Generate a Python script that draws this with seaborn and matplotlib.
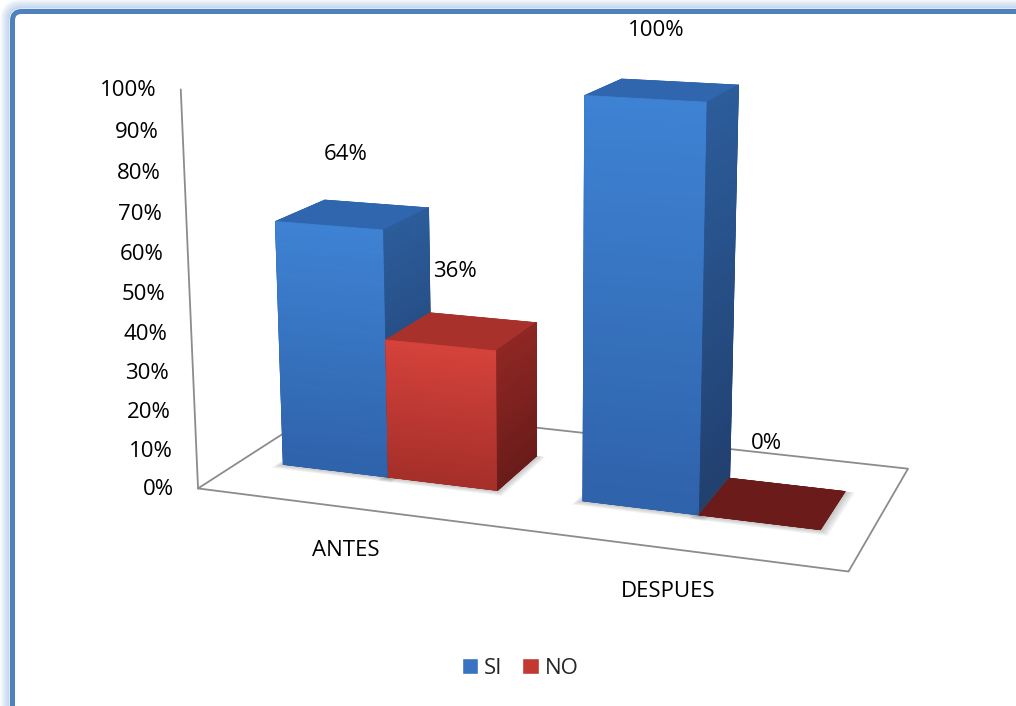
import numpy as np
import pandas as pd
import matplotlib
matplotlib.use("Agg")
import matplotlib.pyplot as plt
import seaborn as sns
from matplotlib.patches import Patch, FancyBboxPatch
from mpl_toolkits.mplot3d.art3d import Poly3DCollection

# ---------------- data ----------------
momentos = ["ANTES", "DESPUES"]
respuestas = ["SI", "NO"]
valores_si = [0.64, 1.00]
valores_no = [0.36, 0.00]
ticks = [0.0, 0.1, 0.2, 0.3, 0.4, 0.5, 0.6, 0.7, 0.8, 0.9, 1.0]
tick_labels = ["0%", "10%", "20%", "30%", "40%", "50%", "60%", "70%", "80%", "90%", "100%"]

datos = pd.DataFrame({
    "momento": momentos * 2,
    "respuesta": ["SI"] * 2 + ["NO"] * 2,
    "valor": valores_si + valores_no,
})

# ---------------- style ----------------
sns.set_theme(style="white")
plt.rcParams["font.family"] = ["Open Sans", "DejaVu Sans"]
FS = 16

colores = {
    "SI": dict(front_top="#3E82D3", front_bot="#2F63AB", side_top="#2C5C9A",
               side_bot="#21406F", top="#2F66AE", bottom="#1F4478", legend="#3873C2"),
    "NO": dict(front_top="#D4423B", front_bot="#A62F2A", side_top="#8F2724",
               side_bot="#6A1C1A", top="#A9312C", bottom="#5E1715", legend="#C23932"),
}
plano = "#6B1B19"
linea = "#8C8C8C"

# ---------------- 3D view (perspective column chart) ----------------
ELEV, AZIM, ROLL = 14.0, -70.56, -0.07
FOCAL, ZOOM = 0.3825, 0.81
BOX = (1.0, 0.4543, 0.6102)
CENTER = (544.9, 406.1)          # centre of the 3D axes, in figure pixels
ANCHO = 0.725                    # width taken by each group of bars
PROF = (0.318, 0.698)            # depth span of the bars inside the floor
MARGEN = 0.505                   # floor margin around the two categories

W, H = 1016, 706
S = 1000
fig = plt.figure(figsize=(W / 100, H / 100), dpi=100)
fig.patch.set_facecolor("white")
ax = fig.add_axes([(W / 2 - S / 2) / W, (H / 2 - S / 2) / H, S / W, S / H],
                  projection="3d", computed_zorder=False)
ax.set_axis_off()
ax.set_facecolor((1, 1, 1, 0))
fig.canvas.draw()


def aplicar_vista():
    ax.set_position([(CENTER[0] - S / 2) / W, (CENTER[1] - S / 2) / H, S / W, S / H])
    ax.view_init(elev=ELEV, azim=AZIM, roll=ROLL)
    ax.set_proj_type("persp", focal_length=FOCAL)
    ax.set_box_aspect(BOX, zoom=ZOOM)
    ax.set_xlim3d(-MARGEN, 1 + MARGEN)
    ax.set_ylim3d(0, 1)
    ax.set_zlim3d(0, 1)


def pantalla(x, y, z):
    """Figure-pixel position of a 3D data point."""
    M = ax.get_proj()
    v = M @ np.array([x, y, z, 1.0])
    return ax.transData.transform((v[0] / v[3], v[1] / v[3]))


aplicar_vista()
y0, y1 = PROF
a = MARGEN

# floor outline and value axis
ax.plot([-a, 1 + a, 1 + a, -a, -a], [0, 0, 1, 1, 0], [0, 0, 0, 0, 0],
        color=linea, lw=1.3, zorder=1, clip_on=False)
ax.plot([-a, -a], [0, 0], [0, 1], color=linea, lw=1.3, zorder=1, clip_on=False)


def bandas(x0, x1, h, cara, c_bot, c_top, z, n=40):
    """Vertical colour gradient laid over the front or right face of a bar."""
    cols = sns.blend_palette([c_bot, c_top], n_colors=n)
    zs = np.linspace(0, h, n + 1)
    polys = []
    for k in range(n):
        if cara == "front":
            yy = y0 - 1e-4
            polys.append([(x0, yy, zs[k]), (x1, yy, zs[k]), (x1, yy, zs[k + 1]), (x0, yy, zs[k + 1])])
        else:
            xx = x1 + 1e-4
            polys.append([(xx, y0, zs[k]), (xx, y1, zs[k]), (xx, y1, zs[k + 1]), (xx, y0, zs[k + 1])])
    pc = Poly3DCollection(polys, facecolors=cols, edgecolors=cols, linewidths=0.6, zorder=z)
    ax.add_collection3d(pc)


def sombra(x0, x1, z):
    """Soft shadow around the footprint of a bar on the floor."""
    polys = []
    for k in range(1, 6):
        polys.append([(x0 - 0.004 * k, y0 - 0.009 * k, 0), (x1 + 0.006 * k, y0 - 0.009 * k, 0),
                      (x1 + 0.006 * k, y1, 0), (x0 - 0.004 * k, y1, 0)])
    pc = Poly3DCollection(polys, facecolors=[(0.3, 0.3, 0.3, 0.07)] * 5,
                          edgecolors="none", zorder=z)
    ax.add_collection3d(pc)


barras = []
orden = 2
for i, m in enumerate(momentos):
    for j, r in enumerate(respuestas):
        h = float(datos.loc[(datos.momento == m) & (datos.respuesta == r), "valor"].iloc[0])
        x0 = i - ANCHO / 2 + j * (ANCHO / 2)
        x1 = x0 + ANCHO / 2
        c = colores[r]
        sombra(x0, x1, orden - 0.5)
        if h > 0:
            caras = [c["bottom"], c["top"], c["front_bot"], c["front_bot"], c["front_bot"], c["side_bot"]]
        else:
            caras = [plano] * 6
        ax.bar3d(x0, y0, 0, ANCHO / 2, y1 - y0, h, color=caras, shade=False,
                 edgecolor=caras, linewidth=0.5, zorder=orden)
        if h > 0:
            bandas(x0, x1, h, "front", c["front_bot"], c["front_top"], orden + 0.3)
            bandas(x0, x1, h, "side", c["side_bot"], c["side_top"], orden + 0.3)
        barras.append(((x0 + x1) / 2, h))
        orden += 1

aplicar_vista()
fig.canvas.draw()


def texto(x, y, z, s, dx=0.0, dy=0.0, **kw):
    px, py = pantalla(x, y, z)
    fig.text((px + dx) / W, (py + dy) / H, s, fontsize=FS, color="black", **kw)


# value labels over each bar
for xc, h in barras:
    texto(xc, (y0 + y1) / 2, h, f"{h * 100:.0f}%", dx=-7, dy=60, ha="center", va="center")

# category labels along the front edge of the floor
for i, m in enumerate(momentos):
    texto(i, 0, 0, m, dx=-3, dy=-43, ha="center", va="center")

# value-axis tick labels
for t, lab in zip(ticks, tick_labels):
    texto(-a, 0, t, lab, dx=-24, dy=-1, ha="right", va="center")

fig.legend(handles=[Patch(facecolor=colores["SI"]["legend"]), Patch(facecolor=colores["NO"]["legend"])],
           labels=respuestas, loc="center", bbox_to_anchor=(520 / W, 1 - 668 / H), ncol=2,
           frameon=False, fontsize=FS, handlelength=0.75, handleheight=0.75,
           handletextpad=0.25, columnspacing=0.9, borderpad=0)


# blue frame with a soft outer glow
def marco(off, **kw):
    x0 = (12.5 - off) / 100
    ytop = (H - 11.5 + off) / 100
    return FancyBboxPatch((x0, -0.5), (W + 50) / 100 - x0, ytop + 0.5,
                          boxstyle=f"round,pad=0,rounding_size={(9 + off) / 100}",
                          transform=fig.dpi_scale_trans, fill=False, **kw)


for k in range(1, 10):
    fig.add_artist(marco(2.5 + k, edgecolor="#8FB3E0", linewidth=0.9,
                         alpha=0.55 * (1 - k / 10), zorder=30))
fig.add_artist(marco(0, edgecolor="#4F81BD", linewidth=3.6, zorder=31))

fig.savefig("out.png", dpi=100)
